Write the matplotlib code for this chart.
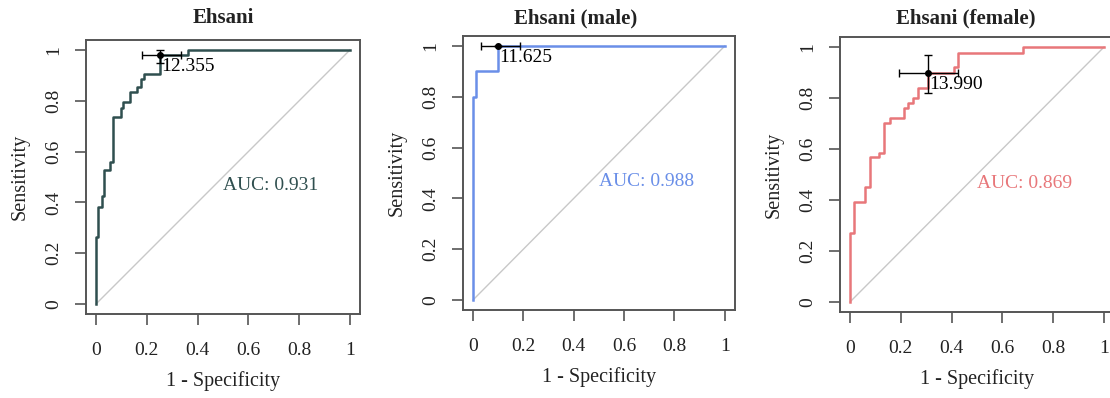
import matplotlib
matplotlib.use("Agg")
import matplotlib.pyplot as plt

plt.rcParams['font.family'] = ['Liberation Serif', 'DejaVu Serif']

# ROC step curves: each (fpr, tpr) pair is the top of a vertical riser
all_fpr = [0, 0, 0.007, 0.025, 0.033, 0.055, 0.066, 0.097, 0.105, 0.134,
           0.160, 0.177, 0.190, 0.252, 0.364, 1.0]
all_tpr = [0, 0.262, 0.381, 0.427, 0.528, 0.560, 0.738, 0.770, 0.797, 0.836,
           0.853, 0.885, 0.904, 0.980, 1.0, 1.0]

male_fpr = [0, 0, 0.012, 0.100, 1.0]
male_tpr = [0, 0.800, 0.900, 1.0, 1.0]

female_fpr = [0, 0, 0.016, 0.059, 0.078, 0.115, 0.135, 0.157, 0.212, 0.230,
              0.248, 0.268, 0.307, 0.408, 0.426, 0.682, 1.0]
female_tpr = [0, 0.272, 0.392, 0.452, 0.567, 0.583, 0.703, 0.723, 0.759, 0.781,
              0.799, 0.840, 0.897, 0.920, 0.977, 1.0, 1.0]

titles = ["Ehsani", "Ehsani (male)", "Ehsani (female)"]
auc_values = [0.931, 0.988, 0.869]
thresholds = ["12.355", "11.625", "13.990"]
best_points = [(0.252, 0.980), (0.100, 1.000), (0.307, 0.897)]
fpr_ci = [(0.180, 0.333), (0.031, 0.185), (0.192, 0.425)]
tpr_ci = [(0.948, 1.000), (1.000, 1.000), (0.818, 0.970)]
colors = ["#2F4F4F", "#6A8FE8", "#E8777A"]
tick_values = [0, 0.2, 0.4, 0.6, 0.8, 1]
tick_labels = ["0", "0.2", "0.4", "0.6", "0.8", "1"]

W, H = 1110, 398
fig = plt.figure(figsize=(W / 100, H / 100), dpi=100)

# pixel extents (left, right, top, bottom) of each plotting region
boxes = [(85.8, 360.1, 39.8, 314.2),
         (462.9, 734.9, 35.8, 310.2),
         (839.8, 1114.2, 36.8, 312.2)]
# horizontal pixel centre of each panel title
title_x = [223, 576, 966]

curves = [(all_fpr, all_tpr), (male_fpr, male_tpr), (female_fpr, female_tpr)]

FS = 14
TEXT = "#222222"

for i in range(3):
    l, r, t, b = boxes[i]
    ax = fig.add_axes([l / W, 1 - b / H, (r - l) / W, (b - t) / H])
    ax.set_xlim(-0.04, 1.04)
    ax.set_ylim(-0.04, 1.04)
    for s in ax.spines.values():
        s.set_color("#555555")
        s.set_linewidth(1.4)

    # chance diagonal
    ax.plot([0, 1], [0, 1], color="#C8C8C8", lw=1.0, zorder=1)

    fpr, tpr = curves[i]
    ax.step(fpr, tpr, where="post", color=colors[i], lw=1.8, zorder=2)

    # best threshold with confidence intervals
    px, py = best_points[i]
    ax.errorbar(px, py,
                xerr=[[px - fpr_ci[i][0]], [fpr_ci[i][1] - px]],
                yerr=[[py - tpr_ci[i][0]], [tpr_ci[i][1] - py]],
                fmt="o", color="black", ms=4, lw=1.0, capsize=3,
                elinewidth=1.0, capthick=1.0, zorder=3)
    ax.annotate(thresholds[i], (px, py), xytext=(1, -2),
                textcoords="offset points", ha="left", va="top",
                fontsize=FS, color="black")

    ax.text(0.5, 0.5, f"AUC: {auc_values[i]:.3f}", ha="left", va="top",
            fontsize=FS, color=colors[i])

    ax.set_xticks(tick_values)
    ax.set_xticklabels(tick_labels)
    ax.set_yticks(tick_values)
    ax.set_yticklabels(tick_labels, rotation=90, va="center")
    ax.tick_params(axis="both", length=8, width=1.2, color="#555555",
                   labelsize=FS, labelcolor=TEXT)
    ax.tick_params(axis="x", pad=12)
    ax.tick_params(axis="y", pad=9)

    cx = (l + r) / 2
    fig.text(cx / W, 1 - (b + 67) / H, "1 - Specificity", ha="center",
             va="center", fontsize=FS + 0.5, color=TEXT)
    fig.text((l - 66) / W, 1 - ((t + b) / 2) / H, "Sensitivity", ha="center",
             va="center", rotation=90, fontsize=FS + 0.5, color=TEXT)
    fig.text(title_x[i] / W, 1 - 18 / H, titles[i], ha="center", va="center",
             fontsize=FS + 1, fontweight="bold", color=TEXT)

fig.savefig("out.png", dpi=100)
